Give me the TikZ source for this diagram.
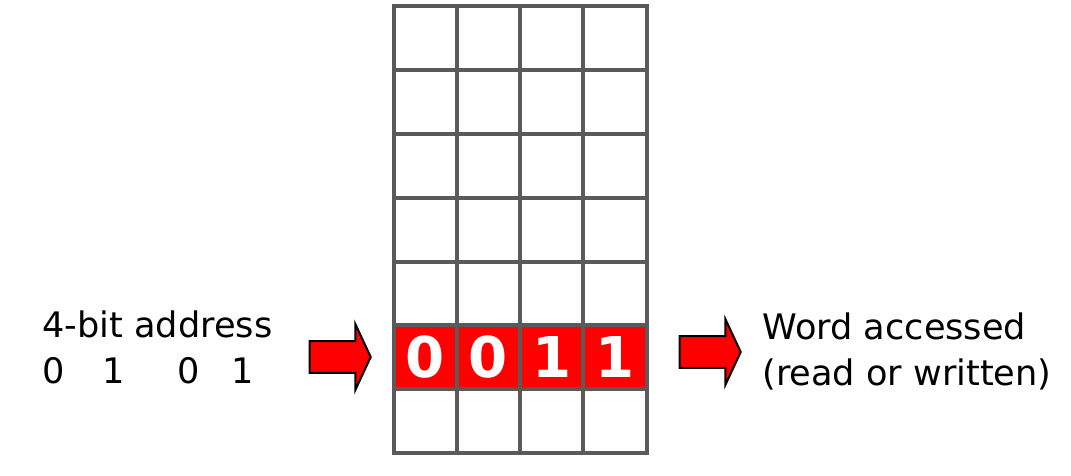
\documentclass[tikz,border=0pt]{standalone}
\usepackage{fontspec}
\setmainfont{DejaVu Sans}
\newfontfamily\cellfont{DejaVu Sans}
\usetikzlibrary{shapes}
\usetikzlibrary{shapes.arrows}
\usetikzlibrary{positioning}
\definecolor{gridgray}{HTML}{5A5A5A}
\tikzset{
    memcell/.style = {rectangle, draw=gridgray, line width=0.08cm, fill=white, inner sep=0pt, outer sep=0pt,
                      minimum width=1.265cm, minimum height=1.276cm},
    memcellr/.style = {memcell, fill=red, text=white, font=\cellfont\bfseries\fontsize{32}{32}\selectfont},
    labeltext/.style = {anchor=base west, inner sep=0pt, text=black, font=\fontsize{20}{24}\selectfont},
    blockarrow/.style = {single arrow, draw=black, line width=0.04cm, fill=red, inner sep=0pt, outer sep=0pt,
                         inner ysep=0.3cm, minimum width=0pt, single arrow head extend=0.34cm,
                         single arrow tip angle=130, minimum height=#1},
}

\begin{document}
\begin{tikzpicture}[x=0.02cm,y=-0.02cm]
\path[use as bounding box] (0,0) rectangle (1071,476);
%
% memory array, 7 words of 4 bits
\foreach \r in {0,...,6}{
  \foreach \c in {0,...,3}{
    \ifnum\r=5\else
      \node[memcell] (cell-\r-\c) at ({393.5+63.25*(\c+0.5)},{6.5+63.79*(\r+0.5)}) {};
    \fi
  }
}
% selected word
\node[memcellr] (cell-5-0) at ({393.5+63.25*0.5},{6.5+63.79*5.5}) {0};
\node[memcellr] (cell-5-1) at ({393.5+63.25*1.5},{6.5+63.79*5.5}) {0};
\node[memcellr] (cell-5-2) at ({393.5+63.25*2.5},{6.5+63.79*5.5}) {1};
\node[memcellr] (cell-5-3) at ({393.5+63.25*3.5},{6.5+63.79*5.5}) {1};
%
% address in, word out
\node[labeltext] at (42,337) (addr) {4-bit address};
\node[labeltext] at (42,383) (bits) {0\hspace{0.75cm}1\hspace{1.05cm}0\hspace{0.65cm}1};
\node[blockarrow=1.22cm] at (336.5,357) (inarrow) {};
\node[blockarrow=1.22cm] at (706.5,352) (outarrow) {};
\node[labeltext] at (762,339) (word) {Word accessed};
\node[labeltext] at (762,385) (rw) {(read or written)};

\end{tikzpicture}
\end{document}
